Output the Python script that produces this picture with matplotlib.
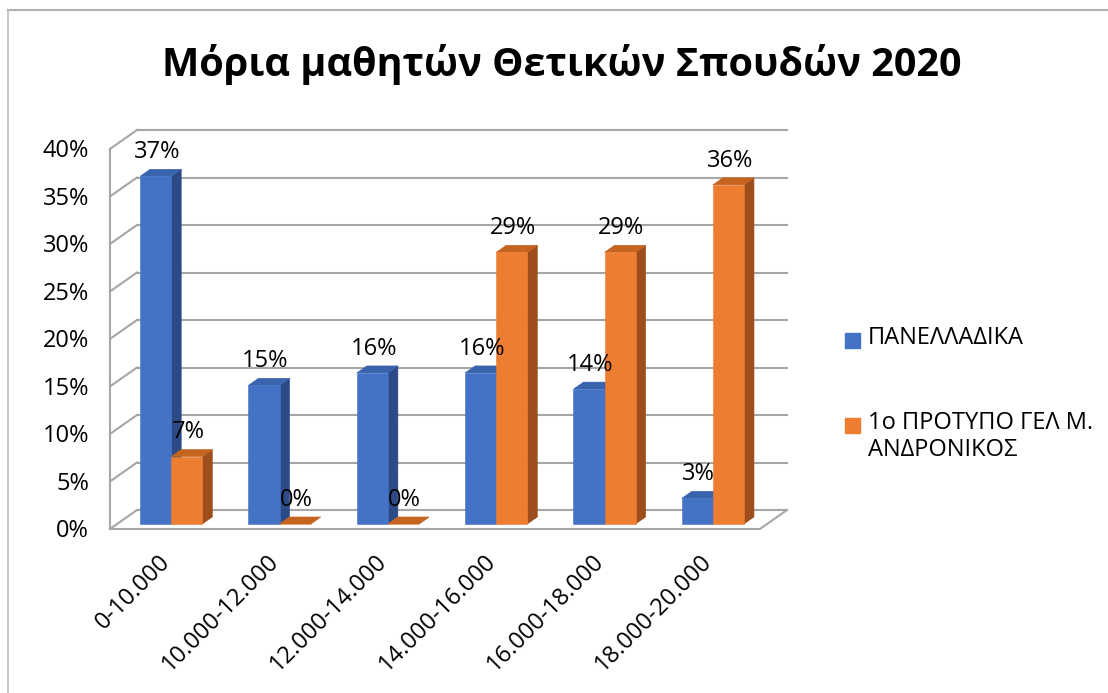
import numpy as np
import matplotlib.pyplot as plt
from matplotlib.patches import Rectangle
from matplotlib.lines import Line2D

plt.rcParams['font.family'] = ['Open Sans', 'DejaVu Sans']

# data (percent)
categories = ['0-10.000', '10.000-12.000', '12.000-14.000',
              '14.000-16.000', '16.000-18.000', '18.000-20.000']
panelladika = [36.6, 14.6, 15.9, 15.9, 14.2, 2.7]
protypo = [7.1, 0, 0, 28.6, 28.6, 35.7]
series_names = ['ΠΑΝΕΛΛΑΔΙΚΑ', '1ο ΠΡΟΤΥΠΟ ΓΕΛ Μ.\nΑΝΔΡΟΝΙΚΟΣ']
y_ticks = [0, 5, 10, 15, 20, 25, 30, 35, 40]
title = 'Μόρια μαθητών Θετικών Σπουδών 2020'

# colours: front, top, side
blue = ('#4472C4', '#3A63AE', '#2C4A86')
orange = ('#ED7D31', '#C4641F', '#9E4E1C')
grid_col = '#a6a6a6'
fs = 17

W, H = 1108, 693
fig = plt.figure(figsize=(W / 100, H / 100), dpi=100)
ax = fig.add_axes([137 / W, 1 - 510 / H, 650 / W, 380 / H])
ax.set_xlim(0, len(categories))
ax.set_ylim(0, 40)
ax.axis('off')

# fake 3d: depth t=0 back wall, t=1 front edge of floor
DX, DY = 0.25, 2.0
t_front, t_back = 0.737, 0.367
bw = 0.287


def proj(x, y, t):
    return x - DX * t, y - DY * t


n = len(categories)

# walls and floor
for v in y_ticks:
    ax.plot([0, n], [v, v], color=grid_col, lw=1.5, zorder=1, clip_on=False)
    x1, y1 = proj(0, v, 1)
    ax.plot([0, x1], [v, y1], color=grid_col, lw=1.5, zorder=1, clip_on=False)
    ax.annotate(f'{v}%', xy=(x1, y1), xytext=(-15, -1.5), textcoords='offset points',
                ha='right', va='center', fontsize=fs, annotation_clip=False)
xa, ya = proj(0, 0, 1)
xb, yb = proj(0, 40, 1)
ax.plot([xa, xb], [ya, yb], color=grid_col, lw=1.5, zorder=1, clip_on=False)
xc, yc = proj(n, 0, 1)
ax.plot([xa, xc, n], [ya, yc, 0], color=grid_col, lw=1.5, zorder=1, clip_on=False)


def bar3d(x0, v, cols):
    front = [proj(x0, 0, t_front), proj(x0 + bw, 0, t_front),
             proj(x0 + bw, v, t_front), proj(x0, v, t_front)]
    top = [proj(x0, v, t_front), proj(x0 + bw, v, t_front),
           proj(x0 + bw, v, t_back), proj(x0, v, t_back)]
    side = [proj(x0 + bw, 0, t_front), proj(x0 + bw, 0, t_back),
            proj(x0 + bw, v, t_back), proj(x0 + bw, v, t_front)]
    for poly, c in ((side, cols[2]), (top, cols[1]), (front, cols[0])):
        xs, ys = zip(*poly)
        ax.fill(xs, ys, facecolor=c, edgecolor=c, lw=0.4, zorder=2, clip_on=False)
    xm, ym = proj(x0 + bw / 2, v, t_front)
    ax.annotate(f'{v:.0f}%', xy=(xm, ym), xytext=(1, 17.5), textcoords='offset points',
                ha='center', va='center', fontsize=fs, zorder=5, annotation_clip=False)


for i in range(n):
    bar3d(i + 0.5 - bw, panelladika[i], blue)
    bar3d(i + 0.5, protypo[i], orange)
    xl, yl = proj(i + 0.5, 0, 1)
    ax.annotate(categories[i], xy=(xl, yl), xytext=(-4, -15), textcoords='offset points',
                rotation=45, rotation_mode='anchor', ha='right', va='top', fontsize=fs,
                annotation_clip=False)

# title
fig.text(562 / W, 1 - 76 / H, title, ha='center', va='baseline',
         fontsize=28.5, fontweight='bold')

# legend
for name, cols, ytop in zip(series_names, (blue, orange), (333, 418)):
    fig.add_artist(Rectangle((845 / W, 1 - (ytop + 15) / H), 15 / W, 15 / H,
                             transform=fig.transFigure, color=cols[0]))
    fig.text(868 / W, 1 - (ytop - 7) / H, name, ha='left', va='top',
             fontsize=fs, linespacing=1.15)

# chart border
fig.add_artist(Line2D([8 / W, 1], [1 - 9.5 / H, 1 - 9.5 / H], color='#b0b0b0', lw=1.5))
fig.add_artist(Line2D([8 / W, 8 / W], [0, 1 - 9.5 / H], color='#c0c0c0', lw=1.2))

fig.savefig('out.png', dpi=100)
